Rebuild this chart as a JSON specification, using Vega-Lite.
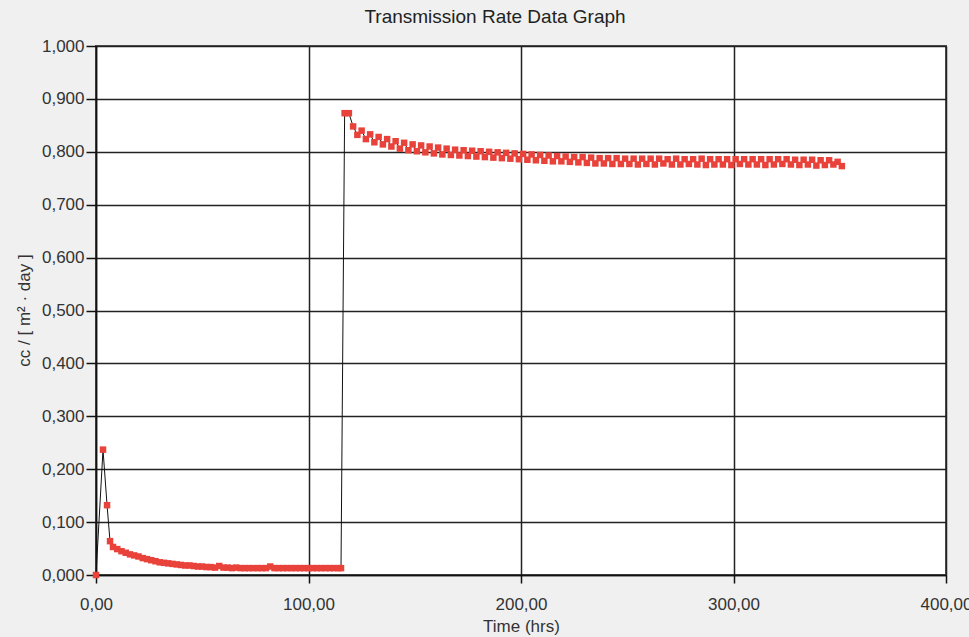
{
  "$schema": "https://vega.github.io/schema/vega-lite/v6.json",
  "width": 850,
  "height": 529,
  "autosize": "none",
  "padding": {"left": 96, "top": 46, "right": 23, "bottom": 62},
  "background": "#f0f0f0",
  "title": {"text": "Transmission Rate Data Graph", "fontSize": 19, "font": "Liberation Sans", "fontWeight": "normal", "color": "#222", "dx": -26, "offset": 10, "anchor": "middle"},
  "config": {
    "view": {"fill": "white", "stroke": "#555", "strokeWidth": 2},
    "axis": {"labelFont": "Liberation Sans", "titleFont": "Liberation Sans", "labelFontSize": 17, "titleFontSize": 17, "titleFontWeight": "normal", "labelColor": "#333", "titleColor": "#333", "gridColor": "#222", "gridWidth": 1.5, "gridOpacity": 1, "domainColor": "#111", "domainWidth": 1.5, "tickColor": "#111", "tickWidth": 1.5}
  },
  "data": {"values": [
    {"t": 0, "v": 0.000}, {"t": 3.3, "v": 0.237}, {"t": 5.2, "v": 0.132}, {"t": 6.6, "v": 0.064},
    {"t": 8, "v": 0.053}, {"t": 10, "v": 0.049}, {"t": 12, "v": 0.045}, {"t": 14, "v": 0.042},
    {"t": 16, "v": 0.039}, {"t": 18, "v": 0.037}, {"t": 20, "v": 0.035}, {"t": 22, "v": 0.032},
    {"t": 24, "v": 0.030}, {"t": 26, "v": 0.028}, {"t": 28, "v": 0.026}, {"t": 30, "v": 0.024},
    {"t": 32, "v": 0.023}, {"t": 34, "v": 0.022}, {"t": 36, "v": 0.021}, {"t": 38, "v": 0.020},
    {"t": 40, "v": 0.019}, {"t": 42, "v": 0.018}, {"t": 44, "v": 0.018}, {"t": 46, "v": 0.017},
    {"t": 48, "v": 0.016}, {"t": 50, "v": 0.016}, {"t": 52, "v": 0.015}, {"t": 54, "v": 0.015},
    {"t": 56, "v": 0.014}, {"t": 58, "v": 0.017}, {"t": 60, "v": 0.014}, {"t": 62, "v": 0.014},
    {"t": 64, "v": 0.013}, {"t": 66, "v": 0.014}, {"t": 68, "v": 0.013}, {"t": 70, "v": 0.013},
    {"t": 72, "v": 0.013}, {"t": 74, "v": 0.013}, {"t": 76, "v": 0.013}, {"t": 78, "v": 0.013},
    {"t": 80, "v": 0.013}, {"t": 82, "v": 0.016}, {"t": 84, "v": 0.013}, {"t": 86, "v": 0.013},
    {"t": 88, "v": 0.013}, {"t": 90, "v": 0.013}, {"t": 92, "v": 0.013}, {"t": 94, "v": 0.013},
    {"t": 96, "v": 0.013}, {"t": 98, "v": 0.013}, {"t": 100, "v": 0.013}, {"t": 102, "v": 0.013},
    {"t": 104, "v": 0.013}, {"t": 106, "v": 0.013}, {"t": 108, "v": 0.013}, {"t": 110, "v": 0.013},
    {"t": 112, "v": 0.013}, {"t": 114, "v": 0.013}, {"t": 115.3, "v": 0.013},
    {"t": 117, "v": 0.873}, {"t": 119, "v": 0.873}, {"t": 121, "v": 0.848}, {"t": 123, "v": 0.832},
    {"t": 125, "v": 0.840}, {"t": 127, "v": 0.824}, {"t": 129, "v": 0.833}, {"t": 131, "v": 0.818},
    {"t": 133, "v": 0.828}, {"t": 135, "v": 0.814}, {"t": 137, "v": 0.824}, {"t": 139, "v": 0.810},
    {"t": 141, "v": 0.820}, {"t": 143, "v": 0.806}, {"t": 145, "v": 0.817}, {"t": 147, "v": 0.803},
    {"t": 149, "v": 0.814}, {"t": 151, "v": 0.801}, {"t": 153, "v": 0.812}, {"t": 155, "v": 0.799},
    {"t": 157, "v": 0.810}, {"t": 159, "v": 0.797}, {"t": 161, "v": 0.808}, {"t": 163, "v": 0.795},
    {"t": 165, "v": 0.806}, {"t": 167, "v": 0.794}, {"t": 169, "v": 0.804}, {"t": 171, "v": 0.793},
    {"t": 173, "v": 0.803}, {"t": 175, "v": 0.792}, {"t": 177, "v": 0.802}, {"t": 179, "v": 0.791},
    {"t": 181, "v": 0.801}, {"t": 183, "v": 0.790}, {"t": 185, "v": 0.800}, {"t": 187, "v": 0.789},
    {"t": 189, "v": 0.799}, {"t": 191, "v": 0.788}, {"t": 193, "v": 0.798}, {"t": 195, "v": 0.787},
    {"t": 197, "v": 0.797}, {"t": 199, "v": 0.786}, {"t": 201, "v": 0.796}, {"t": 203, "v": 0.785},
    {"t": 205, "v": 0.795}, {"t": 207, "v": 0.784}, {"t": 209, "v": 0.794}, {"t": 211, "v": 0.783},
    {"t": 213, "v": 0.793}, {"t": 215, "v": 0.782}, {"t": 217, "v": 0.792}, {"t": 219, "v": 0.782},
    {"t": 221, "v": 0.791}, {"t": 223, "v": 0.781}, {"t": 225, "v": 0.790}, {"t": 227, "v": 0.780},
    {"t": 229, "v": 0.790}, {"t": 231, "v": 0.779}, {"t": 233, "v": 0.789}, {"t": 235, "v": 0.778},
    {"t": 237, "v": 0.788}, {"t": 239, "v": 0.778}, {"t": 241, "v": 0.788}, {"t": 243, "v": 0.777},
    {"t": 245, "v": 0.788}, {"t": 247, "v": 0.777}, {"t": 249, "v": 0.787}, {"t": 251, "v": 0.777},
    {"t": 253, "v": 0.787}, {"t": 255, "v": 0.776}, {"t": 257, "v": 0.787}, {"t": 259, "v": 0.777},
    {"t": 261, "v": 0.787}, {"t": 263, "v": 0.776}, {"t": 265, "v": 0.787}, {"t": 267, "v": 0.778},
    {"t": 269, "v": 0.786}, {"t": 271, "v": 0.776}, {"t": 273, "v": 0.787}, {"t": 275, "v": 0.776},
    {"t": 277, "v": 0.786}, {"t": 279, "v": 0.777}, {"t": 281, "v": 0.786}, {"t": 283, "v": 0.776},
    {"t": 285, "v": 0.787}, {"t": 287, "v": 0.775}, {"t": 289, "v": 0.786}, {"t": 291, "v": 0.776},
    {"t": 293, "v": 0.786}, {"t": 295, "v": 0.776}, {"t": 297, "v": 0.786}, {"t": 299, "v": 0.775},
    {"t": 301, "v": 0.786}, {"t": 303, "v": 0.777}, {"t": 305, "v": 0.786}, {"t": 307, "v": 0.776},
    {"t": 309, "v": 0.786}, {"t": 311, "v": 0.776}, {"t": 313, "v": 0.786}, {"t": 315, "v": 0.775},
    {"t": 317, "v": 0.786}, {"t": 319, "v": 0.776}, {"t": 321, "v": 0.786}, {"t": 323, "v": 0.777},
    {"t": 325, "v": 0.786}, {"t": 327, "v": 0.776}, {"t": 329, "v": 0.785}, {"t": 331, "v": 0.775},
    {"t": 333, "v": 0.785}, {"t": 335, "v": 0.776}, {"t": 337, "v": 0.785}, {"t": 339, "v": 0.774},
    {"t": 341, "v": 0.784}, {"t": 343, "v": 0.775}, {"t": 345, "v": 0.784}, {"t": 347, "v": 0.776},
    {"t": 349, "v": 0.781}, {"t": 351, "v": 0.773}
  ]},
  "encoding": {
    "x": {"field": "t", "type": "quantitative", "scale": {"domain": [0, 400], "nice": false, "zero": true},
      "axis": {"title": "Time (hrs)", "values": [0, 100, 200, 300, 400], "labelExpr": "replace(format(datum.value, '.2f'), '.', ',')", "tickSize": 8, "labelPadding": 13, "titlePadding": 6, "labelFlush": false, "grid": true}},
    "y": {"field": "v", "type": "quantitative", "scale": {"domain": [0, 1], "nice": false},
      "axis": {"title": "cc / [ m² · day ]", "values": [0, 0.1, 0.2, 0.3, 0.4, 0.5, 0.6, 0.7, 0.8, 0.9, 1.0], "labelExpr": "replace(format(datum.value, '.3f'), '.', ',')", "tickSize": 10, "labelPadding": 2, "titleX": -63, "titleY": 264, "titleAngle": -90, "grid": true}}
  },
  "layer": [
    {"mark": {"type": "line", "color": "#111", "strokeWidth": 1}},
    {"mark": {"type": "point", "shape": "square", "filled": true, "color": "#e8423a", "size": 42, "opacity": 1}}
  ]
}
